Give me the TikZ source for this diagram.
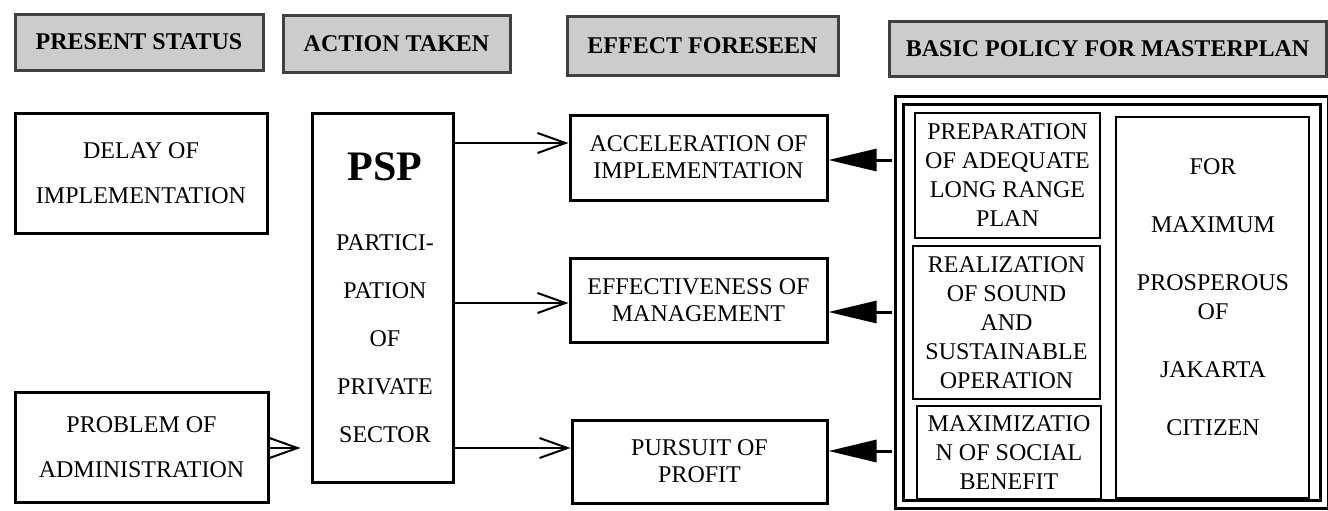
\documentclass[tikz,border=0pt]{standalone}
\usepackage{fontspec}
\setmainfont{Liberation Serif}
\usepackage{tikz}
\usetikzlibrary{arrows.meta}

\begin{document}
\begin{tikzpicture}
	[x=0.5pt,y=-0.5pt,
	 headbox/.style={draw=black!75,line width=1.5pt,fill=black!20,font=\bfseries\fontsize{12}{14}\selectfont},
	 mainbox/.style={draw,line width=1.5pt,align=center,font=\fontsize{12}{13.5}\selectfont},
	 innerbox/.style={draw,line width=0.8pt,align=center,inner sep=1pt,font=\fontsize{12}{14.5}\selectfont},
	 opentip/.style={line width=1pt,-{Straight Barb[length=14pt,width=10pt,line width=1pt]}},
	 filltip/.style={line width=1.5pt,shorten <=2pt,-{Triangle[length=24pt,width=11pt]}}]
\useasboundingbox (0,0) rectangle (1328,510);
% headings
\node[headbox,minimum width=124pt,minimum height=28pt] (hstat) at (139,42) {PRESENT STATUS};
\node[headbox,minimum width=113.5pt,minimum height=28.5pt] (hact) at (396.5,43.5) {ACTION TAKEN};
\node[headbox,minimum width=135.5pt,minimum height=29.5pt] (heff) at (702.5,45.5) {EFFECT FORESEEN};
\node[headbox,minimum width=218.5pt,minimum height=27.5pt] (hpol) at (1107.5,48.5) {BASIC POLICY FOR MASTERPLAN};
% present status
\node[mainbox,minimum width=126pt,minimum height=60pt,font=\fontsize{12}{22.5}\selectfont] (delay) at (141,173)
	{DELAY OF\\IMPLEMENTATION};
\node[mainbox,minimum width=126.5pt,minimum height=55pt,font=\fontsize{12}{22.5}\selectfont] (admin) at (141.5,447)
	{PROBLEM OF\\ADMINISTRATION};
% action taken
\node[mainbox,minimum width=70.5pt,minimum height=184.5pt] (psp) at (382.5,297.5) {};
\node[font=\bfseries\fontsize{21}{24}\selectfont] (psptitle) at (385,167) {PSP};
\node[align=center,font=\fontsize{12}{24}\selectfont] (psptext) at (385,339)
	{PARTICI-\\PATION\\OF\\PRIVATE\\SECTOR};
% effect foreseen
\node[mainbox,minimum width=128.5pt,minimum height=42.5pt] (acc) at (698.5,157.5) {ACCELERATION OF\\IMPLEMENTATION};
\node[mainbox,minimum width=128.5pt,minimum height=42pt] (eff) at (698.5,300) {EFFECTIVENESS OF\\MANAGEMENT};
\node[mainbox,minimum width=127.5pt,minimum height=41.5pt] (pur) at (699.5,461.5) {PURSUIT OF\\PROFIT};
% basic policy
\node[draw,line width=1.5pt,double,double distance=2.3pt,minimum width=212.5pt,minimum height=202pt] (pol) at (1112,302.5) {};
\node[innerbox,minimum width=92.5pt,minimum height=62.5pt] (prep) at (1007.5,175.5)
	{PREPARATION\\OF ADEQUATE\\LONG RANGE\\PLAN};
\node[innerbox,minimum width=93.5pt,minimum height=76.5pt] (real) at (1006.5,322.5)
	{REALIZATION\\OF SOUND\\AND\\SUSTAINABLE\\OPERATION};
\node[innerbox,minimum width=92pt,minimum height=46.5pt] (maxi) at (1009,452.5)
	{MAXIMIZATIO\\N OF SOCIAL\\BENEFIT};
\node[innerbox,minimum width=96.5pt,minimum height=190.5pt] (goal) at (1212.5,307.5) {};
\node[align=center,font=\fontsize{12}{14.5}\selectfont] (goaltext) at (1213,297.5)
	{FOR\\ \\MAXIMUM\\ \\PROSPEROUS\\OF\\ \\JAKARTA\\ \\CITIZEN};
% connectors
\foreach \y/\t in {143/acc,303/eff,448/pur}
\draw[opentip] (psp.east |- 0,\y) -- (\t.west |- 0,\y);
\draw[opentip,shorten >=5pt] (admin.east |- 0,448) -- (psp.west |- 0,448);
\foreach \y/\t in {160/acc,312/eff,451/pur}
\draw[filltip,shorten <=3pt] (pol.west |- 0,\y) -- (\t.east |- 0,\y);
\end{tikzpicture}
\end{document}
